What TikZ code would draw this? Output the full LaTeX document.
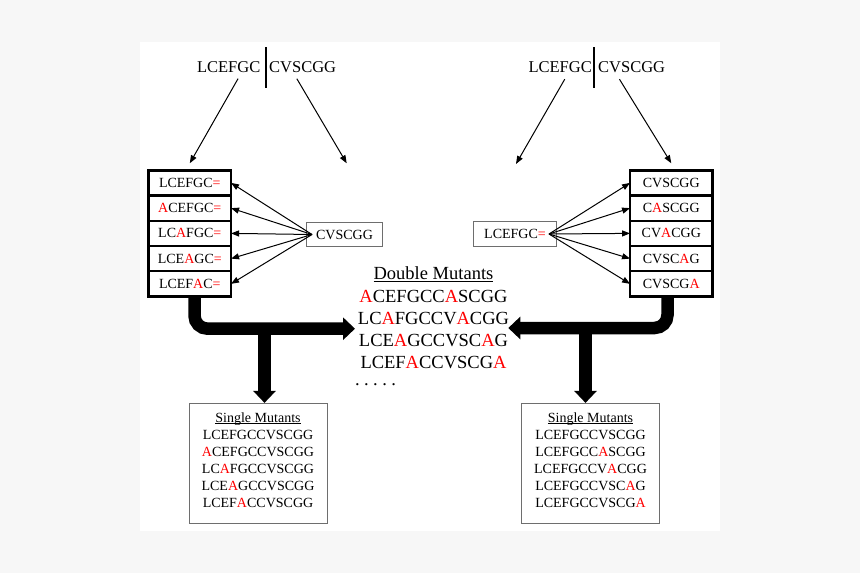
\documentclass[tikz,border=0pt]{standalone}
\usepackage{fontspec}
\setmainfont{Liberation Serif}
\usetikzlibrary{arrows.meta,positioning,calc}
\definecolor{mutred}{RGB}{255,0,0}
\definecolor{boxgray}{RGB}{110,110,110}
\definecolor{pagegray}{RGB}{247,247,247}
\newcommand{\redA}{\textcolor{mutred}{A}}
\newcommand{\redeq}{\textcolor{mutred}{=}}
\newcommand{\uln}[1]{\underline{\smash{#1}}\vphantom{#1}}
\newcommand{\dotgap}{.\hspace{4.4pt}}
\tikzset{
	>={Triangle[length=8pt,width=6pt]}, line join=miter,
}

\begin{document}
\begin{tikzpicture}[
	x=1pt, y=-1pt,
	seq/.style={inner sep=0pt, font=\fontsize{16.5}{20}\selectfont},
	cell/.style={draw, line width=2.5pt, outer sep=0pt, inner sep=0pt, minimum width=82.5pt, minimum height=25.24pt, font=\fontsize{14}{17}\selectfont},
	fragbox/.style={draw=boxgray, line width=1pt, inner sep=0pt, font=\fontsize{14}{17}\selectfont},
	smbox/.style={draw=boxgray, line width=1pt, minimum width=138pt, minimum height=120pt},
	smtext/.style={inner sep=0pt, align=center, font=\fontsize{14}{17}\selectfont},
	dbl/.style={inner sep=0pt, align=center, font=\fontsize{18.5}{22.3}\selectfont},
	link/.style={->, line width=1pt},
	bigarrow/.style={line width=12.5pt, rounded corners=13pt, -{Triangle[length=12pt,width=22pt]}},
	]

	%page
	\useasboundingbox[fill=pagegray] (0,0) rectangle (860,573);
	\fill[white] (140,42) rectangle (720,531);

	%split peptides
	\node[seq, anchor=base east] (ltl) at (260.5,72.3) {LCEFGC};
	\node[seq, anchor=base west] (ltr) at (269,72.3) {CVSCGG};
	\node[seq, anchor=base east] (rtl) at (592,72.3) {LCEFGC};
	\node[seq, anchor=base west] (rtr) at (598,72.3) {CVSCGG};
	\draw[line width=2pt] (265.7,47) -- (265.7,88);
	\draw[line width=2pt] (594.3,47) -- (594.3,88);

	%left stack
	\node[cell] (lc1) at (189.8,182.9) {LCEFGC\redeq};
	\node[cell] (lc2) [below = 0pt of lc1] {\redA CEFGC\redeq};
	\node[cell] (lc3) [below = 0pt of lc2] {LC\redA FGC\redeq};
	\node[cell] (lc4) [below = 0pt of lc3] {LCE\redA GC\redeq};
	\node[cell] (lc5) [below = 0pt of lc4] {LCEF\redA C\redeq};
	%right stack
	\node[cell] (rc1) at (671.3,182.9) {CVSCGG};
	\node[cell] (rc2) [below = 0pt of rc1] {C\redA SCGG};
	\node[cell] (rc3) [below = 0pt of rc2] {CV\redA CGG};
	\node[cell] (rc4) [below = 0pt of rc3] {CVSC\redA G};
	\node[cell] (rc5) [below = 0pt of rc4] {CVSCG\redA};

	%fragments
	\node[fragbox, minimum width=76pt, minimum height=24pt] (lfrag) at (344.5,234.5) {CVSCGG};
	\node[fragbox, minimum width=83pt, minimum height=25pt] (rfrag) at (515,234) {LCEFGC\redeq};

	%free ends
	\coordinate (lfree) at (346.7,163.3);
	\coordinate (rfree) at (516,164);

	%split arrows
	\draw[link] ([xshift=9.4pt,yshift=-6pt]ltl.south) -- ([yshift=7pt]lc1.north);
	\draw[link] ([xshift=-5.8pt,yshift=-6pt]ltr.south) -- (lfree);
	\draw[link] ([xshift=4.6pt,yshift=-6.5pt]rtl.south) -- (rfree);
	\draw[link] ([xshift=-12.2pt,yshift=-6.5pt]rtr.south) -- ([yshift=7pt]rc1.north);

	%joining arrows
	\path ([xshift=6pt]lfrag.west) edge[link] (lc1.east);
	\path ([xshift=6pt]lfrag.west) edge[link] (lc2.east);
	\path ([xshift=6pt]lfrag.west) edge[link] (lc3.east);
	\path ([xshift=6pt]lfrag.west) edge[link] (lc4.east);
	\path ([xshift=6pt]lfrag.west) edge[link] (lc5.east);
	\path ([xshift=-8pt]rfrag.east) edge[link] (rc1.west);
	\path ([xshift=-8pt]rfrag.east) edge[link] (rc2.west);
	\path ([xshift=-8pt]rfrag.east) edge[link] (rc3.west);
	\path ([xshift=-8pt]rfrag.east) edge[link] (rc4.west);
	\path ([xshift=-8pt]rfrag.east) edge[link] (rc5.west);

	%double mutants
	\node[dbl, anchor=north] (dm) at (433.5,266.7) {\uln{Double Mutants}\\
		\redA CEFGCC\redA SCGG\\
		LC\redA FGCCV\redA CGG\\
		LCE\redA GCCVSC\redA G\\
		LCEF\redA CCVSCG\redA};
	\node[dbl, anchor=base west] (dmore) at (355,385) {\dotgap\dotgap\dotgap\dotgap.};

	%single mutants
	\node[smbox] (lsm) at (258,463.4) {};
	\node[smtext, below = 9.3pt of lsm.north] (lsmt) {\uln{Single Mutants}\\
		LCEFGCCVSCGG\\
		\redA CEFGCCVSCGG\\
		LC\redA FGCCVSCGG\\
		LCE\redA GCCVSCGG\\
		LCEF\redA CCVSCGG};
	\node[smbox] (rsm) at (590.5,463.4) {};
	\node[smtext, below = 9.3pt of rsm.north] (rsmt) {\uln{Single Mutants}\\
		LCEFGCCVSCGG\\
		LCEFGCC\redA SCGG\\
		LCEFGCCV\redA CGG\\
		LCEFGCCVSC\redA G\\
		LCEFGCCVSCG\redA};

	%thick paths
	\coordinate (lin) at (355,328.7);
	\coordinate (rin) at (508.3,328);
	\coordinate (lbr) at ([xshift=6.5pt]lsm.north);
	\coordinate (rbr) at ([xshift=-5pt]rsm.north);
	\draw[bigarrow] ([xshift=4.7pt]lc5.south) |- (lin);
	\draw[bigarrow] (lbr |- lin) -- (lbr);
	\draw[bigarrow] ([xshift=-3.8pt]rc5.south) |- (rin);
	\draw[bigarrow] (rbr |- rin) -- (rbr);

\end{tikzpicture}
\end{document}
